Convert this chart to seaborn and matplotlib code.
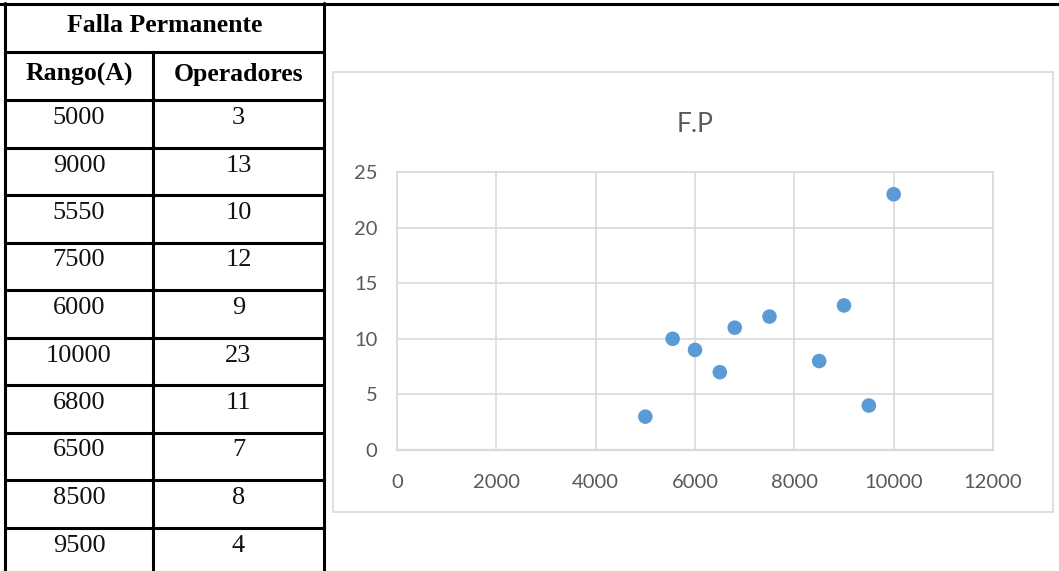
import numpy as np
import pandas as pd
import matplotlib.pyplot as plt
import seaborn as sns

# datos de la tabla (falla permanente)
rango = [5000, 9000, 5550, 7500, 6000, 10000, 6800, 6500, 8500, 9500]
operadores = [3, 13, 10, 12, 9, 23, 11, 7, 8, 4]
titulo_tabla = "Falla Permanente"
encabezados = ["Rango(A)", "Operadores"]
titulo_grafico = "F.P"
xticks = [0, 2000, 4000, 6000, 8000, 10000, 12000]
yticks = [0, 5, 10, 15, 20, 25]

df = pd.DataFrame({"Rango": rango, "Operadores": operadores})

sns.set_style("white")
W, H = 1059, 571
fig = plt.figure(figsize=(W / 100, H / 100), dpi=100)

# capa de fondo en pixeles para la tabla y el marco del grafico
bg = fig.add_axes([0, 0, 1, 1])
bg.set_xlim(0, W)
bg.set_ylim(H, 0)
bg.axis("off")

negro = "black"
lw = 2.2
x_izq, x_mid, x_der = 5, 153, 324
bg.plot([0, W], [4, 4], color=negro, lw=lw)
for x in [x_izq, x_der]:
    bg.plot([x, x], [3, H], color=negro, lw=lw)
bg.plot([x_mid, x_mid], [52, H], color=negro, lw=lw)
bg.plot([x_izq, x_der], [52, 52], color=negro, lw=lw)
alto_fila = 47.5
for i in range(len(rango) + 1):
    y = 100 + i * alto_fila
    bg.plot([x_izq, x_der], [y, y], color=negro, lw=lw)

serif = "Liberation Serif"
bg.text((x_izq + x_der) / 2, 26, titulo_tabla, ha="center", va="center",
        fontsize=18.5, fontweight="bold", family=serif, color=negro)
bg.text((x_izq + x_mid) / 2, 74, encabezados[0], ha="center", va="center",
        fontsize=18.5, fontweight="bold", family=serif, color=negro)
bg.text((x_mid + x_der) / 2, 74, encabezados[1], ha="center", va="center",
        fontsize=18.5, fontweight="bold", family=serif, color=negro)
for i, (r, o) in enumerate(zip(rango, operadores)):
    y = 100 + i * alto_fila + 18
    bg.text((x_izq + x_mid) / 2, y, str(r), ha="center", va="center",
            fontsize=19, family=serif, color="#111111")
    bg.text((x_mid + x_der) / 2, y, str(o), ha="center", va="center",
            fontsize=19, family=serif, color="#111111")

# marco del grafico
bg.add_patch(plt.Rectangle((333, 72), 720, 440, fill=False,
                           edgecolor="#D9D9D9", lw=1.2))

# grafico de dispersion
gris = "#D9D9D9"
texto = "#595959"
ax = fig.add_axes([397 / W, 1 - 450 / H, (993 - 397) / W, (450 - 172) / H])
sns.scatterplot(data=df, x="Rango", y="Operadores", ax=ax, s=110,
                color="#5B9BD5", edgecolor="none", zorder=3)
ax.set_xlim(0, 12000)
ax.set_ylim(0, 25)
ax.set_xticks(xticks)
ax.set_yticks(yticks)
ax.grid(True, color=gris, lw=1.2)
for sp in ax.spines.values():
    sp.set_color(gris)
    sp.set_linewidth(1.2)
ax.spines["bottom"].set_linewidth(1.6)
ax.tick_params(axis="x", pad=17)
ax.tick_params(axis="y", pad=14)
ax.tick_params(length=0, labelsize=14.5, labelcolor=texto)
for lab in ax.get_xticklabels() + ax.get_yticklabels():
    lab.set_family("Lato")
ax.set_xlabel("")
ax.set_ylabel("")
fig.text(695 / W, 1 - 124 / H, titulo_grafico, ha="center", va="center",
         fontsize=19, color=texto, family="Lato")

plt.savefig("out.png", dpi=100)
